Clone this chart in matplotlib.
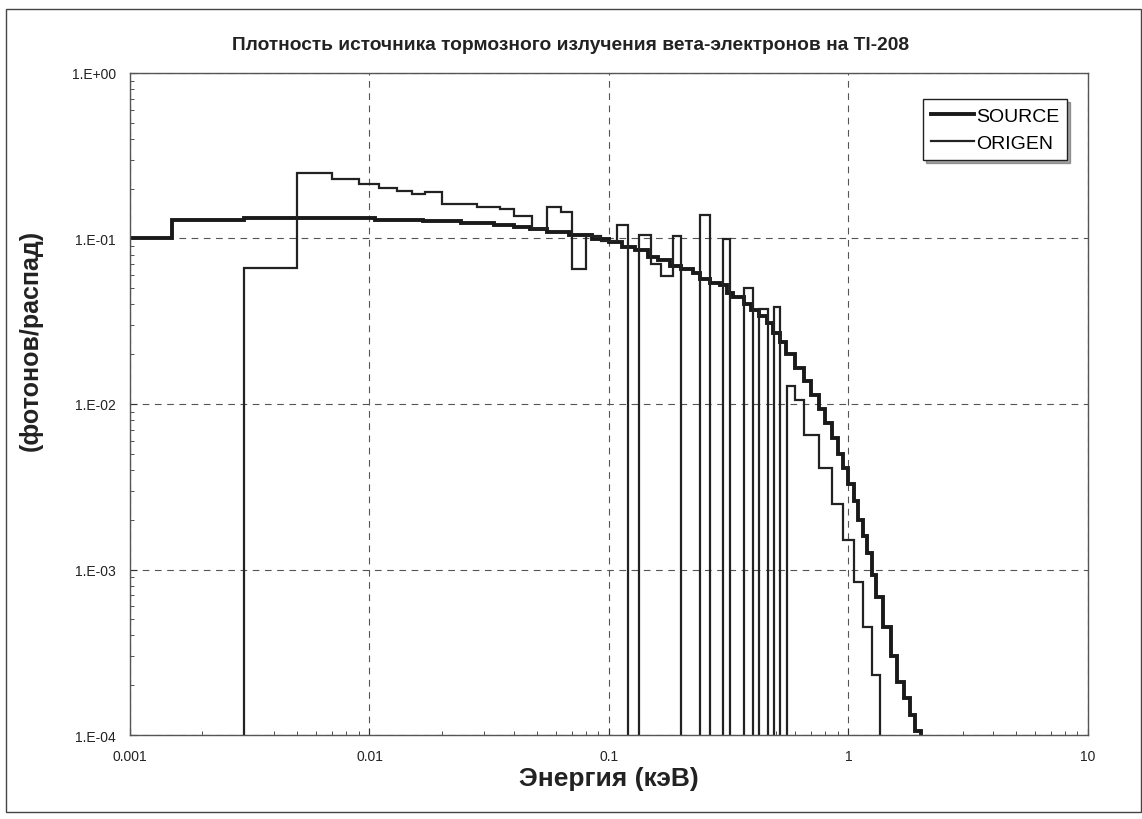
import numpy as np
import matplotlib
matplotlib.use('Agg')
import matplotlib.pyplot as plt
from matplotlib.ticker import FuncFormatter, LogLocator, NullFormatter
from matplotlib.patches import Rectangle

plt.rcParams['font.family'] = ['Liberation Sans', 'DejaVu Sans']

# SOURCE: bin edges (keV) and values (photons/decay)
source_edges = [0.001, 0.0015, 0.003, 0.0105, 0.0167, 0.024, 0.033, 0.04, 0.047, 0.055,
                0.068, 0.085, 0.1, 0.113, 0.128, 0.146, 0.16, 0.18, 0.2, 0.225,
                0.24, 0.265, 0.29, 0.31, 0.33, 0.365, 0.39, 0.425, 0.455, 0.485,
                0.52, 0.55, 0.6, 0.65, 0.7, 0.75, 0.8, 0.85, 0.9, 0.95,
                1.0, 1.05, 1.1, 1.15, 1.2, 1.25, 1.3, 1.4, 1.5, 1.6,
                1.7, 1.8, 1.9, 2.0, 2.1]
source_vals = [0.100, 0.129, 0.133, 0.130, 0.127, 0.124, 0.120, 0.117, 0.114, 0.110,
               0.105, 0.099, 0.095, 0.089, 0.085, 0.077, 0.074, 0.068, 0.065, 0.062,
               0.057, 0.054, 0.052, 0.047, 0.044, 0.040, 0.037, 0.034, 0.031, 0.027,
               0.0236, 0.020, 0.0165, 0.0138, 0.0113, 0.0093, 0.0077, 0.0062, 0.0050, 0.0041,
               0.0033, 0.0026, 0.0020, 0.0016, 0.00125, 0.00093, 0.00068, 0.00045, 0.0003, 0.00021,
               0.000168, 0.000132, 0.000106, 0.0]

# ORIGEN: bin edges and values
origen_edges = [0.001, 0.003, 0.005, 0.007, 0.009, 0.011, 0.013, 0.015, 0.017, 0.02,
                0.028, 0.035, 0.04, 0.0475, 0.055, 0.063, 0.07, 0.08, 0.093, 0.108,
                0.12, 0.133, 0.15, 0.165, 0.185, 0.2, 0.24, 0.265, 0.3, 0.32,
                0.365, 0.4, 0.425, 0.46, 0.49, 0.52, 0.555, 0.6, 0.65, 0.75,
                0.85, 0.95, 1.05, 1.15, 1.25, 1.35, 2.0]
origen_vals = [0.0, 0.066, 0.249, 0.229, 0.213, 0.202, 0.194, 0.185, 0.192, 0.161,
               0.155, 0.150, 0.136, 0.114, 0.156, 0.144, 0.065, 0.103, 0.097, 0.120,
               0.0, 0.105, 0.070, 0.059, 0.104, 0.0, 0.138, 0.0, 0.099, 0.0,
               0.050, 0.0, 0.0376, 0.0, 0.0384, 0.0, 0.0129, 0.0105, 0.0065, 0.0041,
               0.0025, 0.0015, 0.00084, 0.00045, 0.00023, 0.0]

x_ticks = [0.001, 0.01, 0.1, 1, 10]
y_ticks = [1e-4, 1e-3, 1e-2, 1e-1, 1]


def steps(edges, vals):
    e = np.asarray(edges, float)
    v = np.asarray(vals, float)
    v = np.where(v > 0, v, 1e-9)  # empty bins drop below the axis
    xs = np.repeat(e, 2)[1:-1]
    ys = np.repeat(v, 2)
    return xs, ys


fig = plt.figure(figsize=(11.42, 8.2), dpi=100)
ax = fig.add_axes([0.1138, 0.1024, 0.8389, 0.8074])

xs, ys = steps(source_edges, source_vals)
ax.plot(xs, ys, color='#1a1a1a', lw=2.8, label='SOURCE', solid_joinstyle='miter')
xs, ys = steps(origen_edges, origen_vals)
ax.plot(xs, ys, color='#222222', lw=1.6, label='ORIGEN', solid_joinstyle='miter')

ax.set_xscale('log')
ax.set_yscale('log')
ax.set_xlim(0.001, 10)
ax.set_ylim(1e-4, 1)

ax.set_xticks(x_ticks)
ax.set_yticks(y_ticks)
ax.xaxis.set_major_formatter(FuncFormatter(lambda v, p: '%g' % v))
ax.yaxis.set_major_formatter(FuncFormatter(lambda v, p: '1.E%+03d' % int(round(np.log10(v)))))
ax.xaxis.set_minor_locator(LogLocator(base=10, subs=np.arange(2, 10), numticks=20))
ax.yaxis.set_minor_locator(LogLocator(base=10, subs=np.arange(2, 10), numticks=20))
ax.xaxis.set_minor_formatter(NullFormatter())
ax.yaxis.set_minor_formatter(NullFormatter())
ax.tick_params(which='both', direction='in', colors='#333333', labelcolor='#222222', labelsize=10)
ax.tick_params(which='major', length=5, pad=10)
ax.tick_params(which='minor', length=3)

ax.grid(True, which='major', color='#555555', linestyle=(0, (6, 5)), lw=0.8)
for s in ax.spines.values():
    s.set_color('#555555')
    s.set_linewidth(1.0)

fig.text(0.5, 1 - 46 / 820, 'Плотность источника тормозного излучения вета-электронов на Tl-208',
         fontsize=13.8, fontweight='bold', color='#222222', ha='center', va='center')
ax.set_xlabel('Энергия (кэВ)', fontsize=19, fontweight='bold', color='#222222', labelpad=2)
ax.set_ylabel('(фотонов/распад)', fontsize=18, fontweight='bold', color='#222222')
ax.yaxis.set_label_coords(-0.091, 0.597)

leg = ax.legend(loc='upper right', bbox_to_anchor=(0.978, 0.96), fontsize=14,
                frameon=True, fancybox=False, shadow=True, handlelength=2.2,
                handletextpad=0.1, borderpad=0.4, labelspacing=0.5, borderaxespad=0)
leg.get_frame().set_edgecolor('#222222')
leg.get_frame().set_linewidth(1.0)

fig.patches.append(Rectangle((0.005, 0.008), 0.994, 0.98, transform=fig.transFigure,
                             fill=False, edgecolor='#444444', lw=1.0))

fig.savefig('out.png', dpi=100)
